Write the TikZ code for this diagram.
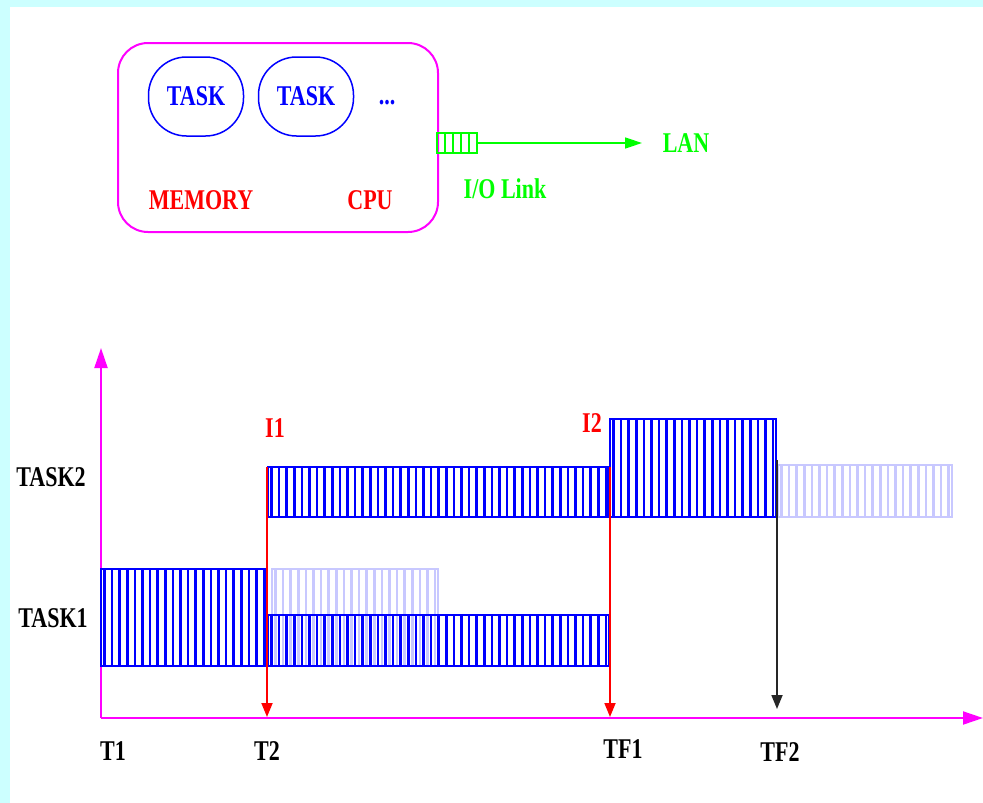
\documentclass[tikz,border=0pt]{standalone}
\usepackage{fontspec}
\setmainfont{Liberation Serif}
\usetikzlibrary{arrows.meta}
\definecolor{bgcyan}{RGB}{204,255,255}
\definecolor{mag}{RGB}{255,0,255}
\definecolor{grn}{RGB}{0,255,0}
\definecolor{faded}{RGB}{200,200,255}
\newcommand{\tx}[1]{\scalebox{1}[1.3]{\bfseries #1}}
\newcommand{\stripebar}[5]{%
  \pgfmathtruncatemacro{\nn}{((#3)-(#1)-4)/7.6}%
  \foreach \i in {0,...,\nn}{\draw[#5, line width=2.6] ({#1+3.5+\i*7.6},#2) -- ({#1+3.5+\i*7.6},#4);}%
  \draw[#5, line width=1.6] (#1,#2) rectangle (#3,#4);%
}
\begin{document}
\begin{tikzpicture}[x=1pt,y=-1pt,
  txt/.style={inner sep=0pt, font=\fontsize{22}{24}\selectfont},
  oval/.style={draw=blue, line width=1.5, rounded corners=38, minimum width=95, minimum height=79, inner sep=0pt, text=blue},
  arr/.style={line width=1.8, -{Triangle[length=14,width=11]}},
  axis/.style={mag, line width=2, -{Triangle[length=20,width=13]}}]
\fill[bgcyan] (0,0) rectangle (983,803);
\fill[white] (10,7) rectangle (983,803);
\useasboundingbox (0,0) rectangle (983,803);

% top box
\node[draw=mag, line width=2, rounded corners=30, minimum width=320, minimum height=189, inner sep=0pt] (box) at (278,137.5) {};
\node[oval, txt] (task1o) at (196,96.5) {\tx{TASK}};
\node[oval, txt] (task2o) at (306,96.5) {\tx{TASK}};
\node[txt, text=blue] (dots) at (387,103) {\tx{...}};
\node[txt, text=red] (memory) at (201,200) {\tx{MEMORY}};
\node[txt, text=red] (cpu) at (370,200) {\tx{CPU}};

% I/O link
\node[draw=grn, line width=1.5, minimum width=40, minimum height=20, inner sep=0pt] (io) at (457,143) {};
\foreach \xx in {445,453,461,469} \draw[grn, line width=1.5] (\xx,133) -- (\xx,153);
\coordinate (lanend) at (642,143);
\draw[grn, line width=1.5, -{Triangle[length=17,width=11]}] (io.east) -- (lanend);
\node[txt, text=grn] (lan) at (686,143) {\tx{LAN}};
\node[txt, text=grn] (iolink) at (505,189) {\tx{I/O Link}};

% axes
\coordinate (o) at (101,718);
\coordinate (ytop) at (101,348);
\coordinate (xend) at (983,718);
\draw[axis] (o) -- (ytop);
\draw[axis] (o) -- (xend);

% bars
\stripebar{272}{569}{438}{666}{faded}
\stripebar{101}{569}{266}{666}{blue}
\stripebar{268}{615}{609}{666}{blue}
\stripebar{268}{467}{608}{517}{blue}
\stripebar{610}{419}{776}{517}{blue}
\stripebar{778}{465}{952}{517}{faded}

% event arrows
\coordinate (i1top) at (267,467);
\coordinate (i1bot) at (267,717);
\coordinate (i2top) at (610,467);
\coordinate (i2bot) at (610,717);
\coordinate (f2top) at (777,460);
\coordinate (f2bot) at (777,709);
\draw[arr, red] (i1top) -- (i1bot);
\draw[arr, red] (i2top) -- (i2bot);
\draw[arr, black!85] (f2top) -- (f2bot);

% labels
\node[txt, text=red] (l1) at (275,428) {\tx{I1}};
\node[txt, text=red] (l2) at (592,423) {\tx{I2}};
\node[txt] (ltask2) at (51,477) {\tx{TASK2}};
\node[txt] (ltask1) at (53,618) {\tx{TASK1}};
\node[txt] (t1) at (113,751) {\tx{T1}};
\node[txt] (t2) at (267,751) {\tx{T2}};
\node[txt] (tf1) at (623,749) {\tx{TF1}};
\node[txt] (tf2) at (780,752) {\tx{TF2}};
\end{tikzpicture}
\end{document}
